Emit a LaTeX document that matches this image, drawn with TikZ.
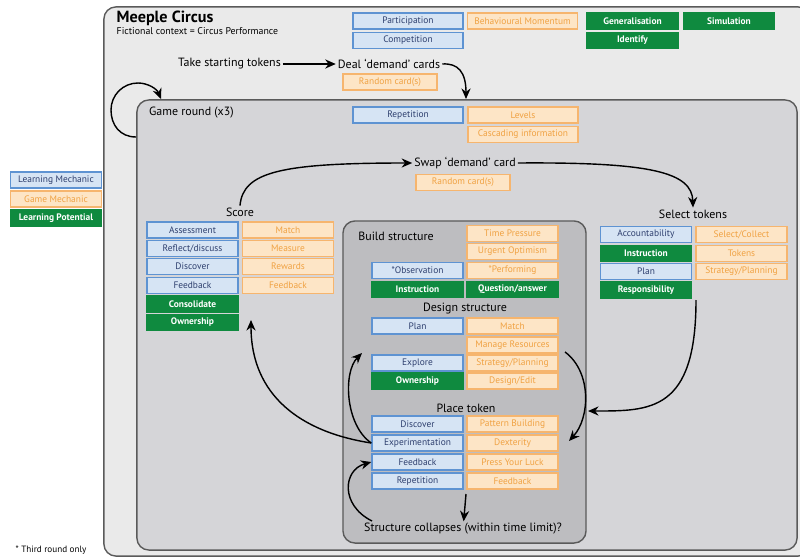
\documentclass[tikz,border=0pt]{standalone}
\usepackage{fontspec}
\setmainfont{PT Sans}
\usetikzlibrary{arrows.meta}
\definecolor{lmfill}{HTML}{D6E4F4}
\definecolor{lmdraw}{HTML}{5E93D2}
\definecolor{lmtext}{HTML}{2E3F6E}
\definecolor{gmfill}{HTML}{FDE5C6}
\definecolor{gmdraw}{HTML}{F6B56E}
\definecolor{gmtext}{HTML}{F0A243}
\definecolor{lpfill}{HTML}{0F8A3F}
\definecolor{outerfill}{HTML}{EAEAEA}
\definecolor{roundfill}{HTML}{D5D5D8}
\definecolor{buildfill}{HTML}{BDBDC0}
\definecolor{framedraw}{HTML}{5A5A5A}

\begin{document}
\begin{tikzpicture}[x=0.025cm, y=-0.025cm, >={Stealth[length=7.5pt,width=6.5pt]}, line width=1pt]
            \tikzstyle{box} = [draw, minimum height=0.4cm, minimum width=2.275cm, inner sep=0pt, line width=1pt, font=\fontsize{6.7}{7}\selectfont]
            \tikzstyle{lm} = [box, fill=lmfill, draw=lmdraw, text=lmtext]
            \tikzstyle{gm} = [box, fill=gmfill, draw=gmdraw, text=gmtext]
            \tikzstyle{lp} = [box, fill=lpfill, draw=lpfill, text=white, font=\fontsize{6.7}{7}\selectfont\bfseries]
            \tikzstyle{wide} = [minimum width=2.75cm]
            \tikzstyle{stage} = [font=\fontsize{8.5}{9}\selectfont, inner sep=1pt]
            \tikzstyle{frame} = [draw=framedraw, line width=1pt, rounded corners=0.3cm]

            \path[use as bounding box, clip] (0,0) rectangle (800,558);

            \node[frame, fill=outerfill, minimum width=17.65cm, minimum height=13.725cm] (outer) at (457,281.5) {};
            \node[frame, fill=roundfill, minimum width=16.5cm, minimum height=11.25cm] (ground) at (467,325) {};
            \node[frame, fill=buildfill, minimum width=6.075cm, minimum height=8.05cm] (build) at (464.5,382) {};

            \node[anchor=west, inner sep=0pt, font=\fontsize{11.5}{12}\selectfont\bfseries] (title) at (116,18) {Meeple Circus};
            \node[anchor=west, inner sep=0pt, font=\fontsize{7}{8}\selectfont] (context) at (116,31) {Fictional context = Circus Performance};

            \node[lm, wide] (part) at (408,21) {Participation};
            \node[lm, wide] (comp) at (408,40.5) {Competition};
            \node[gm, wide] (behav) at (522.5,21) {Behavioural Momentum};
            \node[lp] (gen) at (632.5,21) {Generalisation};
            \node[lp] (sim) at (729,21) {Simulation};
            \node[lp] (ident) at (632.5,40.5) {Identify};

            \node[stage] (take) at (229.5,64) {Take starting tokens};
            \node[stage] (deal) at (389,64) {Deal `demand' cards};
            \node[gm, minimum width=2.35cm] (rand1) at (390,82) {Random card(s)};

            \node[anchor=west, stage] (roundlbl) at (147,113) {Game round (x3)};
            \node[lm, wide] (rep) at (408,115) {Repetition};
            \node[gm, wide] (levels) at (523,115) {Levels};
            \node[gm, wide] (cascade) at (523,134.5) {Cascading information};

            \node[stage] (swap) at (465,163) {Swap `demand' card};
            \node[gm, minimum width=2.35cm] (rand2) at (463,182.5) {Random card(s)};

            \node[stage] (score) at (240,212) {Score};
            \node[lm] (assess) at (192.5,230) {Assessment};
            \node[lm] (reflect) at (192.5,248.5) {Reflect/discuss};
            \node[lm] (discover1) at (192.5,266.5) {Discover};
            \node[lm] (feedback1) at (192.5,285.5) {Feedback};
            \node[lp] (consol) at (192.5,304) {Consolidate};
            \node[lp] (own1) at (192.5,322.5) {Ownership};
            \node[gm] (match1) at (288,230) {Match};
            \node[gm] (measure) at (288,248.5) {Measure};
            \node[gm] (rewards) at (288,266.5) {Rewards};
            \node[gm] (gfeed1) at (288,285.5) {Feedback};

            \node[stage] (select) at (693,214) {Select tokens};
            \node[lm] (account) at (646,234.5) {Accountability};
            \node[lp] (instr1) at (646,253.5) {Instruction};
            \node[lm] (plan1) at (646,271.5) {Plan};
            \node[lp] (resp) at (646,290) {Responsibility};
            \node[gm] (collect) at (741.5,234.5) {Select/Collect};
            \node[gm] (tokens) at (741.5,253.5) {Tokens};
            \node[gm] (strat1) at (741.5,271.5) {Strategy/Planning};

            \node[stage] (buildlbl) at (396,236) {Build structure};
            \node[gm] (timep) at (512.5,233.5) {Time Pressure};
            \node[gm] (urgent) at (512.5,251.5) {Urgent Optimism};
            \node[gm] (perform) at (512.5,270.5) {*Performing};
            \node[lp] (qa) at (512.5,289.5) {Question/answer};
            \node[lm] (observe) at (417.5,270.5) {*Observation};
            \node[lp] (instr2) at (417.5,289.5) {Instruction};

            \node[stage] (design) at (465,309) {Design structure};
            \node[lm] (plan2) at (417.5,326) {Plan};
            \node[gm] (match2) at (512.5,326) {Match};
            \node[gm] (manage) at (512.5,345) {Manage Resources};
            \node[lm] (explore) at (417.5,363) {Explore};
            \node[gm] (strat2) at (512.5,363) {Strategy/Planning};
            \node[lp] (own2) at (417.5,381) {Ownership};
            \node[gm] (edit) at (512.5,381) {Design/Edit};

            \node[stage] (place) at (466,408) {Place token};
            \node[lm] (discover2) at (417.5,424) {Discover};
            \node[lm] (exper) at (417.5,443) {Experimentation};
            \node[lm] (feedback2) at (417.5,462) {Feedback};
            \node[lm] (repet) at (417.5,481) {Repetition};
            \node[gm] (pattern) at (512.5,424) {Pattern Building};
            \node[gm] (dexter) at (512.5,443) {Dexterity};
            \node[gm] (press) at (512.5,462) {Press Your Luck};
            \node[gm] (gfeed2) at (512.5,481) {Feedback};

            \node[stage] (collapse) at (463,529) {Structure collapses (within time limit)?};

            \node[lm] (leglm) at (56,180) {Learning Mechanic};
            \node[gm] (leggm) at (56,199) {Game Mechanic};
            \node[lp] (leglp) at (56,218) {Learning Potential};
            \node[anchor=west, inner sep=0pt, font=\fontsize{6.5}{7}\selectfont] (note) at (15,550) {* Third round only};

            \coordinate (dealin) at (466,99);
            \coordinate (loopout) at (136,137);
            \coordinate (loopin) at (161,99);
            \coordinate (scorein) at (251,320);
            \coordinate (explorein) at (362,353);
            \coordinate (collout) at (372,521);
            \coordinate (placeout) at (466,494);
            \coordinate (respout) at (696,300);
            \coordinate (buildin) at (588,411);
            \coordinate (manageout) at (565,352);
            \coordinate (dexterin) at (569,441);

            \draw [->] (take) -- (deal);
            \draw [->] (deal.east) .. controls (458,63) and (466,72) .. (dealin);
            \draw [->] (loopout) .. controls (120,137) and (111,125) .. (111,110) .. controls (111,95) and (123,83) .. (138,83) .. controls (148,83) and (157,89) .. (loopin);
            \draw [->] (score.north) .. controls (243,172) and (280,163) .. (swap.west);
            \draw [->] (swap.east) .. controls (650,162) and (692,172) .. (select.north);
            \draw [->] (exper.west) .. controls (300,432) and (251,395) .. (scorein);
            \draw [->] (exper.west) .. controls (345,425) and (343,372) .. (explorein);
            \draw [->] (collout) .. controls (340,505) and (343,470) .. (feedback2.west);
            \draw [->] (placeout) -- (collapse);
            \draw [->] (respout) .. controls (696,412) and (650,411) .. (buildin);
            \draw [->] (manageout) .. controls (592,372) and (590,418) .. (dexterin);
          \end{tikzpicture}
\end{document}
